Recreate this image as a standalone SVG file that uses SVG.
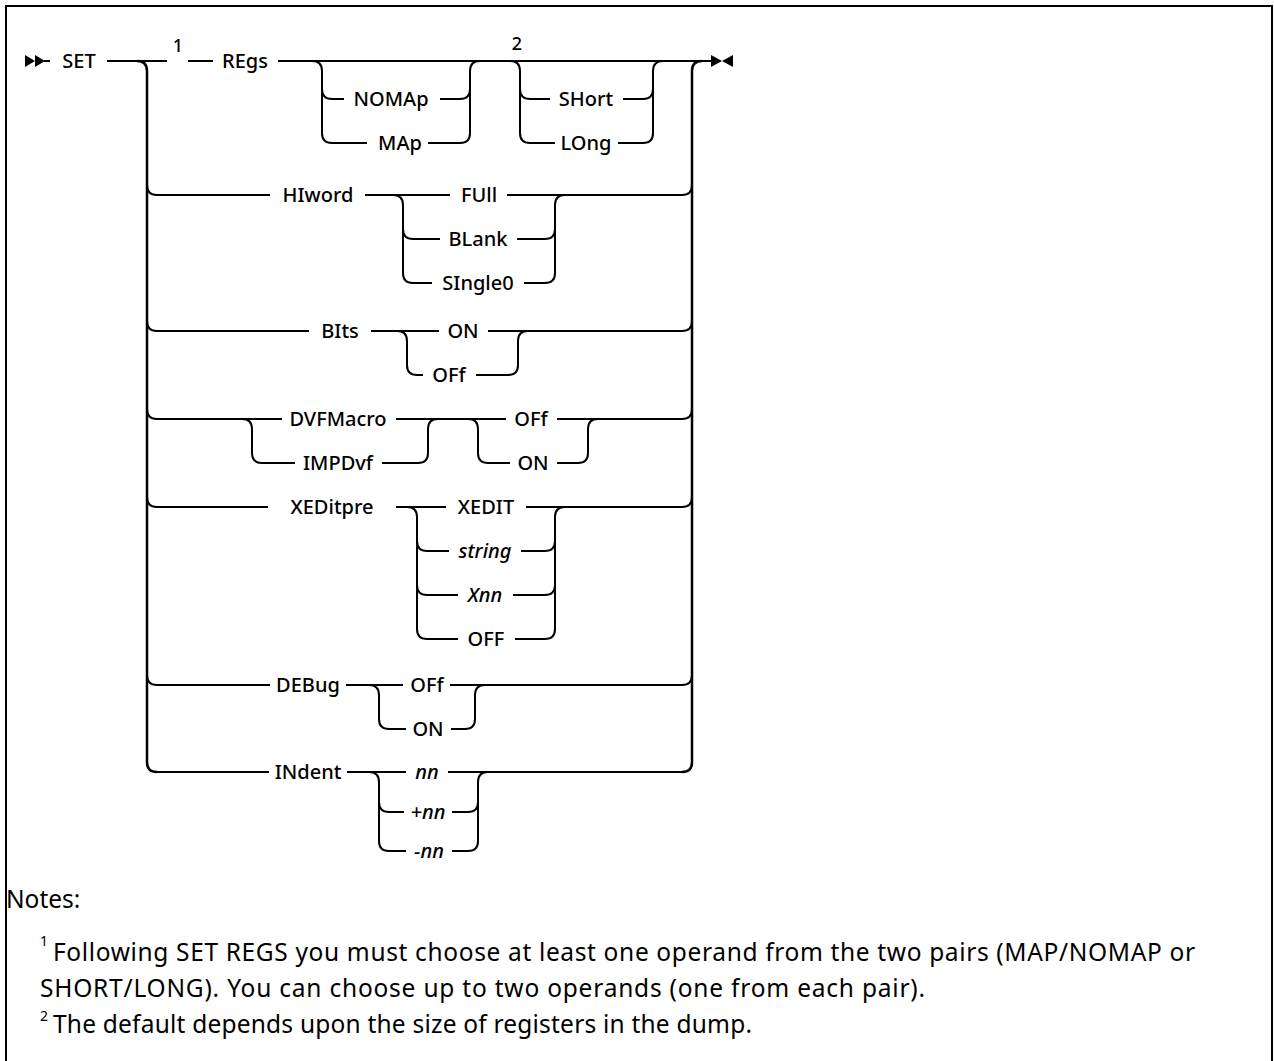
<svg xmlns="http://www.w3.org/2000/svg" width="1274" height="1061" viewBox="0 0 1274 1061">
<style>
  .ln { fill: none; stroke: #000; stroke-width: 2; }
  .tr { fill: none; stroke: #000; stroke-width: 2.5; }
  .kw { font-family: "Noto Sans", "Liberation Sans", sans-serif; font-size: 20px; font-weight: 500; fill: #000; text-anchor: middle; }
  .it { font-style: italic; }
  .sup { font-family: "Noto Sans", "Liberation Sans", sans-serif; font-size: 18px; font-weight: 500; fill: #000; text-anchor: middle; }
  .note { font-family: "Noto Sans", "Liberation Sans", sans-serif; font-size: 24.5px; fill: #000; }
  .nsup { font-family: "Noto Sans", "Liberation Sans", sans-serif; font-size: 14px; fill: #000; }
</style>
<rect x="0" y="0" width="1274" height="1061" fill="#fff"/>
<rect x="6" y="6" width="1266" height="1070" fill="none" stroke="#000" stroke-width="2"/>

<g id="connectors">
  <!-- start / end markers -->
  <polygon points="25,55 35,61 25,67" fill="#000"/>
  <polygon points="35,55 45,61 35,67" fill="#000"/>
  <path class="ln" d="M44,61 H50"/>
  <polygon points="711,55 722,61 711,67" fill="#000"/>
  <polygon points="733,55 722,61 733,67" fill="#000"/>
  <!-- main line -->
  <path class="ln" d="M107,61 H167 M188,61 H213 M278,61 H711"/>
  <!-- left trunk -->
  <path class="tr" d="M137,61 Q147,61 147,71 V762 Q147,772 157,772"/>
  <!-- right trunk -->
  <path class="tr" d="M682,772 Q692,772 692,762 V71 Q692,61 702,61"/>
  <!-- REgs group 1 -->
  <path class="ln" d="M312,61 Q322,61 322,71 V133 Q322,143 332,143 H367"/>
  <path class="ln" d="M322,89 Q322,99 332,99 H344"/>
  <path class="ln" d="M440,99 H460 Q470,99 470,89"/>
  <path class="ln" d="M428,143 H460 Q470,143 470,133 V71 Q470,61 480,61"/>
  <!-- REgs group 2 -->
  <path class="ln" d="M510,61 Q520,61 520,71 V133 Q520,143 530,143 H555"/>
  <path class="ln" d="M520,89 Q520,99 530,99 H550"/>
  <path class="ln" d="M623,99 H643 Q653,99 653,89"/>
  <path class="ln" d="M618,143 H643 Q653,143 653,133 V71 Q653,61 663,61"/>
  <!-- HIword -->
  <path class="ln" d="M147,185 Q147,195 157,195 H270"/>
  <path class="ln" d="M365,195 H450 M507,195 H682 Q692,195 692,185"/>
  <path class="ln" d="M393,195 Q403,195 403,205 V273 Q403,283 413,283 H432"/>
  <path class="ln" d="M403,229 Q403,239 413,239 H440"/>
  <path class="ln" d="M517,239 H545 Q555,239 555,229"/>
  <path class="ln" d="M524,283 H545 Q555,283 555,273 V205 Q555,195 565,195"/>
  <!-- BIts -->
  <path class="ln" d="M147,321 Q147,331 157,331 H309"/>
  <path class="ln" d="M371,331 H439 M488,331 H682 Q692,331 692,321"/>
  <path class="ln" d="M397,331 Q407,331 407,341 V365 Q407,375 417,375 H423"/>
  <path class="ln" d="M476,375 H508 Q518,375 518,365 V341 Q518,331 528,331"/>
  <!-- DVFMacro -->
  <path class="ln" d="M147,409 Q147,419 157,419 H282"/>
  <path class="ln" d="M396,419 H506 M557,419 H682 Q692,419 692,409"/>
  <path class="ln" d="M242,419 Q252,419 252,429 V453 Q252,463 262,463 H295"/>
  <path class="ln" d="M382,463 H418 Q428,463 428,453 V429 Q428,419 438,419"/>
  <path class="ln" d="M468,419 Q478,419 478,429 V453 Q478,463 488,463 H510"/>
  <path class="ln" d="M557,463 H578 Q588,463 588,453 V429 Q588,419 598,419"/>
  <!-- XEDitpre -->
  <path class="ln" d="M147,497 Q147,507 157,507 H268"/>
  <path class="ln" d="M396,507 H446 M526,507 H682 Q692,507 692,497"/>
  <path class="ln" d="M407,507 Q417,507 417,517 V629 Q417,639 427,639 H458"/>
  <path class="ln" d="M417,541 Q417,551 427,551 H449"/>
  <path class="ln" d="M521,551 H545 Q555,551 555,541"/>
  <path class="ln" d="M417,585 Q417,595 427,595 H458"/>
  <path class="ln" d="M513,595 H545 Q555,595 555,585"/>
  <path class="ln" d="M515,639 H545 Q555,639 555,629 V517 Q555,507 565,507"/>
  <!-- DEBug -->
  <path class="ln" d="M147,675 Q147,685 157,685 H270"/>
  <path class="ln" d="M346,685 H403 M450,685 H682 Q692,685 692,675"/>
  <path class="ln" d="M369,685 Q379,685 379,695 V719 Q379,729 389,729 H406"/>
  <path class="ln" d="M451,729 H465 Q475,729 475,719 V695 Q475,685 485,685"/>
  <!-- INdent -->
  <path class="ln" d="M157,772 H269"/>
  <path class="ln" d="M347,772 H406 M448,772 H682"/>
  <path class="ln" d="M369,772 Q379,772 379,782 V841 Q379,851 389,851 H406"/>
  <path class="ln" d="M379,802 Q379,812 389,812 H404"/>
  <path class="ln" d="M452,812 H468 Q478,812 478,802"/>
  <path class="ln" d="M452,851 H468 Q478,851 478,841 V782 Q478,772 488,772"/>
</g>

<g id="SET"><text class="kw" x="79" y="68">SET</text></g>
<g id="note-ref-1"><text class="sup" x="178" y="52">1</text></g>
<g id="REgs"><text class="kw" x="245" y="68">REgs</text></g>
<g id="NOMAp"><text class="kw" x="391" y="106">NOMAp</text></g>
<g id="MAp"><text class="kw" x="400" y="150">MAp</text></g>
<g id="note-ref-2"><text class="sup" x="517" y="50">2</text></g>
<g id="SHort"><text class="kw" x="586" y="106">SHort</text></g>
<g id="LOng"><text class="kw" x="586" y="150">LOng</text></g>

<g id="HIword"><text class="kw" x="318" y="202">HIword</text></g>
<g id="FUll"><text class="kw" x="479" y="202">FUll</text></g>
<g id="BLank"><text class="kw" x="478" y="246">BLank</text></g>
<g id="SIngle0"><text class="kw" x="478" y="290">SIngle0</text></g>

<g id="BIts"><text class="kw" x="340" y="338">BIts</text></g>
<g id="BIts-ON"><text class="kw" x="463" y="338">ON</text></g>
<g id="BIts-OFf"><text class="kw" x="449" y="382">OFf</text></g>

<g id="DVFMacro"><text class="kw" x="338" y="426">DVFMacro</text></g>
<g id="IMPDvf"><text class="kw" x="338" y="470">IMPDvf</text></g>
<g id="DVF-OFf"><text class="kw" x="531" y="426">OFf</text></g>
<g id="DVF-ON"><text class="kw" x="533" y="470">ON</text></g>

<g id="XEDitpre"><text class="kw" x="332" y="514">XEDitpre</text></g>
<g id="XEDIT"><text class="kw" x="486" y="514">XEDIT</text></g>
<g id="string"><text class="kw it" x="485" y="558">string</text></g>
<g id="Xnn"><text class="kw it" x="485" y="602">Xnn</text></g>
<g id="OFF"><text class="kw" x="486" y="646">OFF</text></g>

<g id="DEBug"><text class="kw" x="308" y="692">DEBug</text></g>
<g id="DEBug-OFf"><text class="kw" x="427" y="692">OFf</text></g>
<g id="DEBug-ON"><text class="kw" x="428" y="736">ON</text></g>

<g id="INdent"><text class="kw" x="308" y="779">INdent</text></g>
<g id="nn"><text class="kw it" x="427" y="779">nn</text></g>
<g id="plus-nn"><text class="kw it" x="428" y="819">+nn</text></g>
<g id="minus-nn"><text class="kw it" x="429" y="858">-nn</text></g>

<g id="notes">
  <text class="note" x="6" y="908">Notes:</text>
  <text class="nsup" x="40" y="946">1</text>
  <text class="note" x="53" y="961" textLength="1142" lengthAdjust="spacing">Following SET REGS you must choose at least one operand from the two pairs (MAP/NOMAP or</text>
  <text class="note" x="40" y="997" textLength="885" lengthAdjust="spacing">SHORT/LONG). You can choose up to two operands (one from each pair).</text>
  <text class="nsup" x="40" y="1021">2</text>
  <text class="note" x="53" y="1033" textLength="699" lengthAdjust="spacing">The default depends upon the size of registers in the dump.</text>
</g>
</svg>
